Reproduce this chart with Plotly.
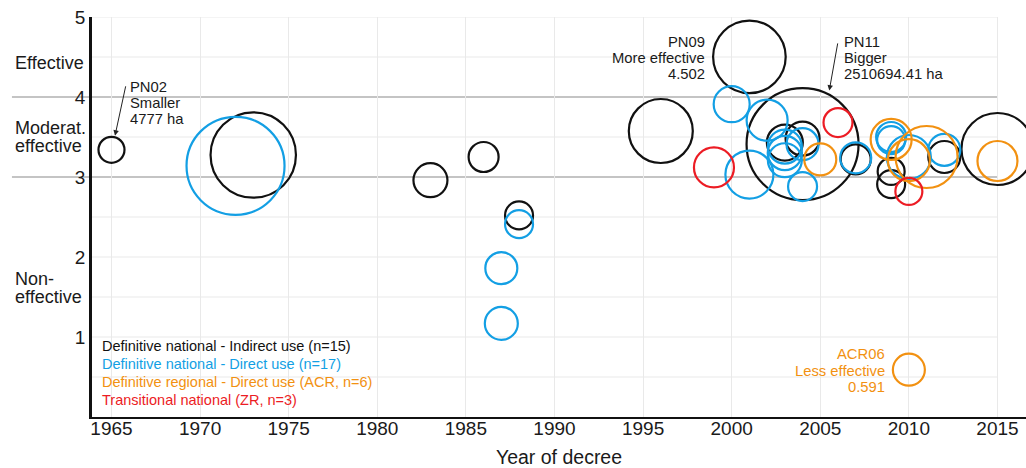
import numpy as np
import plotly.graph_objects as go

# Effectiveness score (0-5) by year of decree; bubble size encodes protected area (ha)

# Definitive national - indirect use
indirect_year = [1965, 1973, 1983, 1986, 1988, 1996, 2001, 2003, 2004, 2004, 2007, 2009, 2009, 2012, 2015]
indirect_score = [3.34, 3.275, 2.96, 3.25, 2.52, 3.575, 4.502, 3.43, 3.41, 3.48, 3.22, 3.07, 2.91, 3.25, 3.35]
indirect_area = [4777, 1200000, 26500, 10200, 6100, 494000, 740500, 38700, 2510694.41, 26500, 10200, 5100, 6100, 17000, 721500]
indirect_code = ["PN02", "", "", "", "", "", "PN09", "", "PN11", "", "", "", "", "", ""]

# Definitive national - direct use
direct_year = [1972, 1987, 1987, 1988, 2000, 2001, 2002, 2003, 2003, 2003, 2004, 2004, 2007, 2009, 2009, 2010, 2012]
direct_score = [3.14, 1.86, 1.17, 2.41, 3.91, 3.03, 3.71, 3.38, 3.30, 3.21, 3.41, 2.88, 3.24, 3.50, 3.46, 3.25, 3.34]
direct_area = [1761000, 17000, 21400, 6100, 38700, 168700, 81000, 26500, 27800, 26000, 17000, 7800, 13300, 10200, 6100, 114500, 17000]

# Definitive regional - direct use (ACR)
regional_year = [2005, 2009, 2010, 2011, 2015, 2010]
regional_score = [3.22, 3.47, 3.21, 3.25, 3.20, 0.591]
regional_area = [17000, 81000, 91500, 443400, 71200, 17000]
regional_code = ["", "", "", "", "", "ACR06"]

# Transitional national (ZR)
transitional_year = [1999, 2006, 2010]
transitional_score = [3.12, 3.68, 2.82]
transitional_area = [71200, 7800, 5100]

groups = [
    ("Definitive national - Indirect use", "", "#111111", indirect_year, indirect_score, indirect_area),
    ("Definitive national - Direct use", "", "#139fe4", direct_year, direct_score, direct_area),
    ("Definitive regional - Direct use", "ACR", "#f29111", regional_year, regional_score, regional_area),
    ("Transitional national", "ZR", "#ec1c24", transitional_year, transitional_score, transitional_area),
]

FONT = "Arial, Liberation Sans, sans-serif"
TEXT = "#1a1a1a"
X_RANGE = [1963.9, 2016.61]
Y_RANGE = [0, 5]

all_area = np.array(indirect_area + direct_area + regional_area + transitional_area, dtype=float)
a_min, a_max = all_area.min(), all_area.max()
D_MIN, D_MAX = 26, 112


def diameter(area):
    area = np.asarray(area, dtype=float)
    return D_MIN + (D_MAX - D_MIN) * np.sqrt((area - a_min) / (a_max - a_min))


fig = go.Figure()
for name, abbr, color, yrs, score, area in groups:
    fig.add_trace(go.Scatter(
        x=yrs, y=score, mode="markers", name=name, showlegend=False, hoverinfo="skip",
        marker=dict(symbol="circle", size=diameter(area), sizemode="diameter", opacity=1,
                    color="rgba(0,0,0,0)", line=dict(color=color, width=2.2)),
    ))

shapes = []
# horizontal reference grid, ending at 2015
x_end_paper = (2015 - X_RANGE[0]) / (X_RANGE[1] - X_RANGE[0])
for v in np.arange(0.5, 5.01, 0.5):
    if v in (3.0, 4.0):
        shapes.append(dict(type="line", xref="paper", yref="y", x0=-0.0857, x1=x_end_paper,
                           y0=v, y1=v, line=dict(color="#c4c4c4", width=2), layer="below"))
    else:
        shapes.append(dict(type="line", xref="paper", yref="y", x0=0, x1=x_end_paper,
                           y0=v, y1=v, line=dict(color="#e9e9e9", width=1.2), layer="below"))

annotations = []

# category labels beside the score axis
for txt, yv in [("Effective", 4.425), ("Moderat.", 3.61), ("effective", 3.385),
                ("Non-", 1.72), ("effective", 1.5)]:
    annotations.append(dict(text=txt, xref="paper", yref="y", x=-0.0846, y=yv,
                            xanchor="left", yanchor="middle", showarrow=False,
                            font=dict(family=FONT, size=18, color=TEXT)))

# group key, built from the series
key_y = [0.8875, 0.6625, 0.4375, 0.2125]
for (name, abbr, color, yrs, score, area), yk in zip(groups, key_y):
    inner = f"{abbr}, n={len(yrs)}" if abbr else f"n={len(yrs)}"
    annotations.append(dict(text=f"{name} ({inner})", xref="paper", yref="y",
                            x=0.0086, y=yk, xanchor="left", yanchor="middle", showarrow=False,
                            font=dict(family=FONT, size=14.5, color=color)))


def label_lines(x, y, lines, color, anchor, dx, dys):
    for line, dy in zip(lines, dys):
        annotations.append(dict(text=line, x=x, y=y, xref="x", yref="y", xanchor=anchor,
                                yanchor="middle", xshift=dx, yshift=dy, showarrow=False,
                                font=dict(family=FONT, size=14.8, color=color)))


def pointer(x, y, tip_dx, tip_dy, tail_dx, tail_dy):
    annotations.append(dict(text="", x=x, y=y, xref="x", yref="y", xshift=tip_dx, yshift=tip_dy,
                            showarrow=True, ax=tail_dx, ay=tail_dy, axref="pixel", ayref="pixel",
                            arrowhead=2, arrowsize=1.1, arrowwidth=1, arrowcolor="#222222"))


# smallest area
i = indirect_area.index(min(indirect_area))
label_lines(indirect_year[i], indirect_score[i],
            [indirect_code[i], "Smaller", f"{indirect_area[i]:.0f} ha"], TEXT, "left", 16.5, [63, 47, 31])
pointer(indirect_year[i], indirect_score[i], 3.5, 14, 11, -51)

# highest score
i = indirect_score.index(max(indirect_score))
label_lines(indirect_year[i], indirect_score[i],
            [indirect_code[i], "More effective", f"{indirect_score[i]:.3f}"], TEXT, "right", -42.5, [15, -1, -17])

# biggest area
i = indirect_area.index(max(indirect_area))
label_lines(indirect_year[i], indirect_score[i],
            [indirect_code[i], "Bigger", f"{indirect_area[i]:.2f} ha"], TEXT, "left", 39.4, [102, 86, 70])
pointer(indirect_year[i], indirect_score[i], 26.7, 53.6, 8.7, -48.7)

# lowest score
i = regional_score.index(min(regional_score))
label_lines(regional_year[i], regional_score[i],
            [regional_code[i], "Less effective", f"{regional_score[i]:.3f}"], "#f29111", "right", -22, [16, -1, -17])

fig.update_layout(
    width=1026, height=468,
    margin=dict(l=92, r=0, t=17, b=51, pad=0),
    paper_bgcolor="white", plot_bgcolor="white",
    font=dict(family=FONT, color=TEXT),
    shapes=shapes, annotations=annotations,
    xaxis=dict(range=X_RANGE, tick0=1965, dtick=5, showgrid=True, gridcolor="#e9e9e9", gridwidth=1.2,
               zeroline=False, showline=True, linecolor="#111111", linewidth=2, ticks="",
               ticklabelstandoff=-7,
               tickfont=dict(family=FONT, size=19, color=TEXT),
               title=dict(text="Year of decree", font=dict(family=FONT, size=19.5, color=TEXT), standoff=17)),
    yaxis=dict(range=Y_RANGE, tickvals=[1, 2, 3, 4, 5], showgrid=False, zeroline=False,
               showline=True, linecolor="#111111", linewidth=2.5, ticks="",
               tickfont=dict(family=FONT, size=19, color=TEXT)),
)

fig.write_html("out.html")
